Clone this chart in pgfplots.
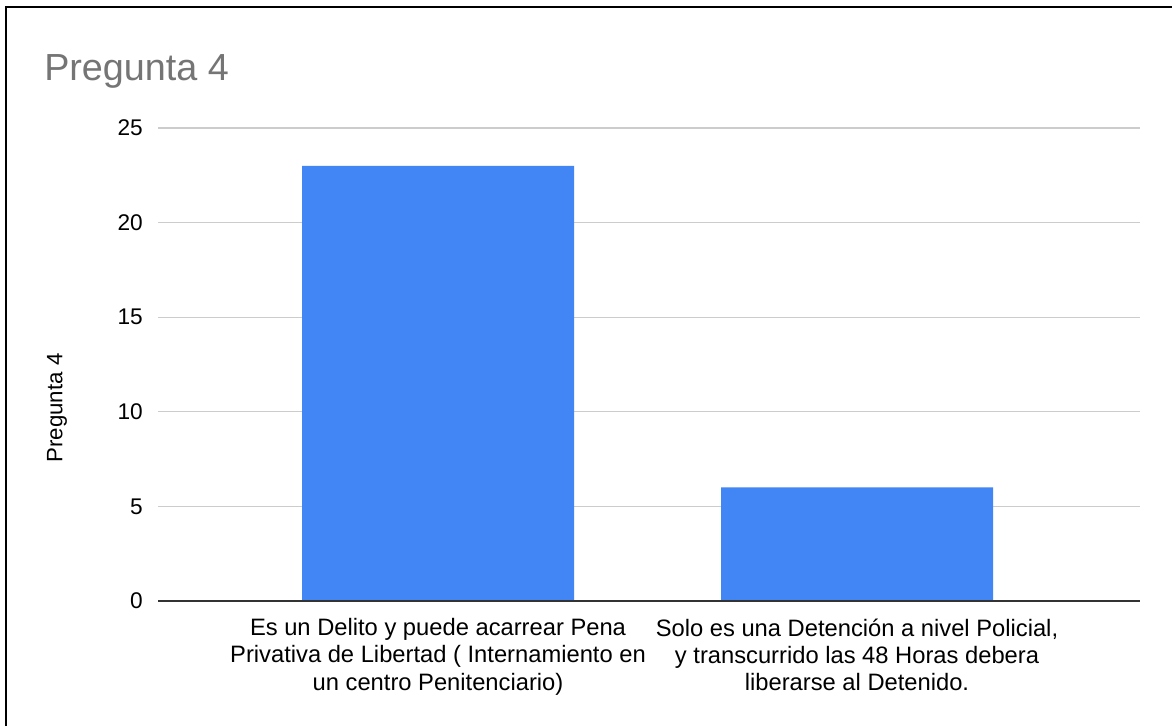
\documentclass[border=0pt]{standalone}
\usepackage{fontspec}
\setmainfont{Liberation Sans}
\usepackage{pgfplots}
\pgfplotsset{compat=1.18}
\definecolor{barblue}{HTML}{4285F4}
\definecolor{gridgray}{HTML}{CCCCCC}
\definecolor{titlegray}{HTML}{757575}
\definecolor{axisdark}{HTML}{333333}
\begin{document}
\begin{tikzpicture}
\useasboundingbox[fill=white] (0,0) rectangle (879pt,544.5pt);
\draw[black, line width=1.1pt] (4.5pt,0) -- (4.5pt,539.25pt) -- (879pt,539.25pt);
\node[anchor=base west, inner sep=0pt, text=titlegray, font=\fontsize{28.3}{33}\selectfont] at (33pt,483.75pt) {Pregunta 4};
\begin{axis}[
  at={(118.5pt,93.75pt)}, anchor=south west,
  scale only axis, width=736.5pt, height=354.75pt,
  xmin=0.3317, xmax=2.6754, ymin=0, ymax=25,
  ytick={0,5,10,15,20,25},
  xtick={1,2},
  xticklabels={{Es un Delito y puede acarrear Pena\\Privativa de Libertad ( Internamiento en\\un centro Penitenciario)},{Solo es una Detención a nivel Policial,\\y transcurrido las 48 Horas debera\\liberarse al Detenido.}},
  major tick length=0pt,
  axis line style={draw=none},
  ymajorgrids, grid style={gridgray, line width=0.8pt},
  /pgf/number format/assume math mode=true,
  yticklabel style={anchor=east, inner sep=0pt, xshift=-11.25pt, font=\fontsize{17}{20}\selectfont},
  xticklabel style={anchor=north, inner sep=0pt, yshift=-13pt, align=center, font=\fontsize{17.8}{20.4}\selectfont},
  ylabel={Pregunta 4},
  ylabel style={at={(axis description cs:-0.1029,0.408)}, anchor=center, font=\fontsize{16.7}{20}\selectfont},
  ybar, bar width=204pt,
]
\addplot[fill=barblue, draw=none] coordinates {(1,23) (2,6)};
\draw[axisdark, line width=1.1pt] (axis cs:0.3317,0) -- (axis cs:2.6754,0);
\end{axis}
\end{tikzpicture}
\end{document}
